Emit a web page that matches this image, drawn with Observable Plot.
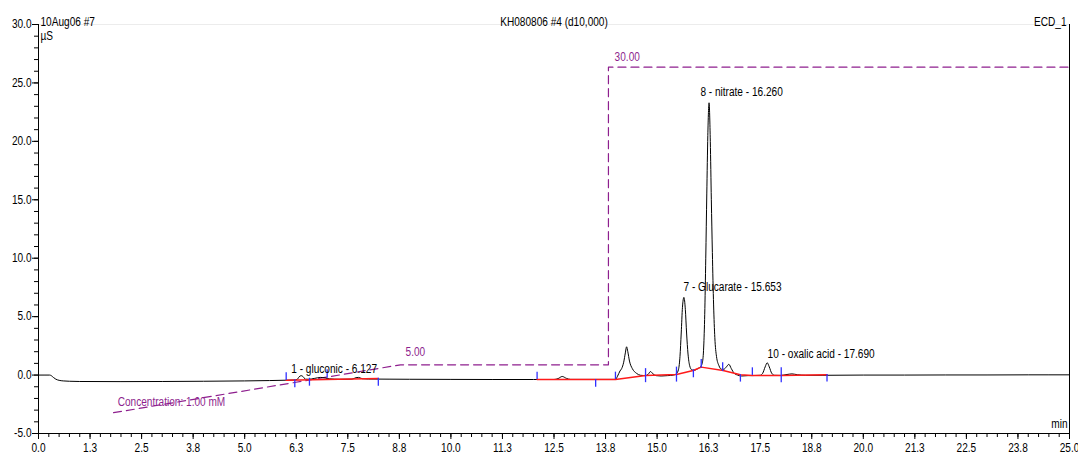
<!DOCTYPE html>
<html><head><meta charset="utf-8">
<script src="https://cdn.jsdelivr.net/npm/d3@7"></script>
<script src="https://cdn.jsdelivr.net/npm/@observablehq/plot@0.6"></script>
<style>
html,body{margin:0;padding:0;background:#fff;}
#chart svg{display:block;}
</style></head><body><div id="chart"></div>
<script>
// ---- chromatogram trace (min, µS) ----
const traceTime = [0,0.27,0.31,0.36,0.42,0.5,0.6,0.75,1.0,2.0,3.0,4.0,5.0,5.6,6.0,6.2,6.27,6.32,6.37,6.42,6.47,6.55,6.7,6.84,6.95,7.05,7.3,7.6,7.7,7.76,7.85,8.0,8.5,9.0,10.0,11.0,12.0,12.5,12.6,12.7,12.8,12.9,13.5,13.99,14.04,14.10,14.14,14.19,14.23,14.26,14.29,14.33,14.40,14.50,14.60,14.72,14.78,14.84,14.90,14.98,15.10,15.25,15.40,15.47,15.52,15.555,15.585,15.615,15.65,15.685,15.715,15.75,15.79,15.84,15.90,15.96,16.02,16.07,16.10,16.13,16.155,16.18,16.205,16.23,16.26,16.29,16.315,16.34,16.37,16.40,16.44,16.50,16.56,16.62,16.68,16.74,16.80,16.87,16.95,17.05,17.2,17.35,17.50,17.56,17.62,17.67,17.72,17.78,17.85,18.0,18.15,18.27,18.4,18.6,19.0,20.0,21.0,22.0,23.0,24.0,25.0];
const traceValue = [0,0,-0.05,-0.2,-0.35,-0.45,-0.5,-0.53,-0.55,-0.56,-0.55,-0.53,-0.5,-0.47,-0.44,-0.42,-0.38,-0.15,-0.05,-0.15,-0.35,-0.36,-0.28,-0.2,-0.25,-0.32,-0.36,-0.35,-0.22,-0.2,-0.31,-0.34,-0.35,-0.36,-0.37,-0.38,-0.38,-0.38,-0.3,-0.12,-0.28,-0.37,-0.37,-0.37,-0.1,0.35,0.55,1.1,1.9,2.42,2.0,1.2,0.55,0.15,-0.02,-0.05,0.05,0.3,0.1,-0.05,-0.08,-0.05,0.0,0.12,0.5,1.6,3.6,5.8,6.65,5.6,3.6,1.8,0.8,0.45,0.4,0.5,0.62,0.8,1.1,2.4,5.2,10,15.5,20.5,23.3,20.0,15.0,10.5,6.0,3.2,1.6,0.8,0.5,0.5,0.7,0.92,0.55,0.15,0.0,-0.08,-0.05,-0.04,-0.02,0.15,0.7,1.05,0.7,0.15,-0.02,-0.03,0.05,0.1,0.03,-0.02,-0.02,0.0,0.0,0.01,0.01,0.02,0.02];

// ---- integration baselines (red) ----
const baseATime = [6.006, 8.24];
const baseAValue = [-0.45, -0.3];
const baseBTime = [12.09, 13.99, 14.72, 15.47, 15.875, 16.07, 16.60, 17.02, 17.31, 18.01, 19.12];
const baseBValue = [-0.38, -0.38, -0.03, 0.05, 0.39, 0.68, 0.39, 0.03, -0.03, -0.03, 0.03];

// ---- peak delimiter marks (blue) ----
const markTime = [6.006, 6.215, 6.57, 7.0, 8.24, 12.09, 13.51, 13.99, 14.72, 15.47, 15.88, 16.07, 16.59, 17.02, 17.31, 18.01, 19.12];
const markLow  = [-0.46, -1.09, -0.95, -0.27, -0.95, -0.38, -1.04, -0.38, -0.65, -0.6, -0.23, 0.59, 0.3, -0.6, -0.03, -0.66, -0.6];
const markHigh = [0.2, -0.4, -0.27, 0.45, -0.27, 0.25, -0.38, 0.25, 0.55, 0.68, 0.45, 1.33, 1.05, 0.03, 0.62, 0.62, 0.05];

// ---- gradient / concentration program (drawn in µS units) ----
const gradTime = [1.82, 8.78, 13.82, 13.82, 25];
const gradValue = [-3.22, 0.88, 0.88, 26.35, 26.35];
const gradLabels = ["Concentration: 1.00 mM", "5.00", "30.00"];
const gradLabelTime = [1.92, 8.9, 13.97];
const gradLabelValue = [-2.34, 1.93, 27.2];

// ---- peak labels ----
const peakLabels = ["1 - gluconic - 6.127", "7 - Glucarate - 15.653", "8 - nitrate - 16.260", "10 - oxalic acid - 17.690"];
const peakLabelTime = [6.13, 15.64, 16.05, 17.68];
const peakLabelValue = [0.48, 7.5, 24.2, 1.76];

// ---- axes ----
const xTicks = [0,1.25,2.5,3.75,5,6.25,7.5,8.75,10,11.25,12.5,13.75,15,16.25,17.5,18.75,20,21.25,22.5,23.75,25];
const xTickLabels = ["0.0","1.3","2.5","3.8","5.0","6.3","7.5","8.8","10.0","11.3","12.5","13.8","15.0","16.3","17.5","18.8","20.0","21.3","22.5","23.8","25.0"];
const xMinorTicks = d3.range(0, 100.5, 1).map(i => i * 0.25);
const yTicks = [-5,0,5,10,15,20,25,30];
const yTickLabels = ["-5.0","0.0","5.0","10.0","15.0","20.0","25.0","30.0"];
const yMinorTicks = d3.range(-5, 30.5, 1);

const titleLeft = "10Aug06 #7";
const titleCenter = "KH080806 #4 (d10,000)";
const titleRight = "ECD_1";
const yUnit = "µS";
const xUnit = "min";

const FONT = '"Liberation Sans",Arial,sans-serif';
const NARROW = 0.84; // Arial Narrow look

const trace = traceTime.map((t, i) => ({t, v: traceValue[i]}));
const baseA = baseATime.map((t, i) => ({t, v: baseAValue[i]}));
const baseB = baseBTime.map((t, i) => ({t, v: baseBValue[i]}));
const marksB = markTime.map((t, i) => ({t, lo: markLow[i], hi: markHigh[i]}));
const grad = gradTime.map((t, i) => ({t, v: gradValue[i]}));
const gradLab = gradLabels.map((s, i) => ({s, t: gradLabelTime[i], v: gradLabelValue[i]}));
const peakLab = peakLabels.map((s, i) => ({s, t: peakLabelTime[i], v: peakLabelValue[i]}));

const purple = "#8e1f8e";

const chart = Plot.plot({
  width: 1078, height: 455,
  marginLeft: 38, marginRight: 9, marginTop: 24, marginBottom: 22,
  style: {fontFamily: FONT, fontSize: "12px", background: "#fff", color: "#000"},
  x: {domain: [0, 25]},
  y: {domain: [-5, 30]},
  marks: [
    Plot.ruleY([30], {stroke: "#ececec"}),
    Plot.axisX(xMinorTicks, {tickSize: 4, text: null, label: null, stroke: "#000"}),
    Plot.axisX(xTicks, {tickSize: 6, tickPadding: 4, tickFormat: d => xTickLabels[xTicks.indexOf(d)], label: null, fontSize: 12, fill: "#000"}),
    Plot.axisY(yMinorTicks, {tickSize: 4, text: null, label: null}),
    Plot.axisY(yTicks, {tickSize: 6, tickPadding: 1, tickFormat: d => yTickLabels[yTicks.indexOf(d)], label: null, fontSize: 12, fill: "#000"}),
    Plot.ruleX([0], {stroke: "#000"}),
    Plot.ruleX([25], {stroke: "#000"}),
    Plot.ruleY([-5], {stroke: "#000"}),
    Plot.line(grad, {x: "t", y: "v", stroke: purple, strokeWidth: 1.2, strokeDasharray: "8,5"}),
    Plot.line(trace, {x: "t", y: "v", stroke: "#000", strokeWidth: 1, curve: "monotone-x"}),
    Plot.line(baseA, {x: "t", y: "v", stroke: "#ff1a1a", strokeWidth: 1.5}),
    Plot.line(baseB, {x: "t", y: "v", stroke: "#ff1a1a", strokeWidth: 1.5}),
    Plot.ruleX(marksB, {x: "t", y1: "lo", y2: "hi", stroke: "#3030ff", strokeWidth: 1.3}),
    Plot.text(gradLab, {x: "t", y: "v", text: "s", fill: purple, textAnchor: "start", fontSize: 12}),
    Plot.text(peakLab, {x: "t", y: "v", text: "s", fill: "#000", textAnchor: "start", fontSize: 12}),
    Plot.text([titleLeft], {frameAnchor: "top-left", dx: 2, dy: -7, textAnchor: "start", fill: "#000", fontSize: 12}),
    Plot.text([titleCenter], {frameAnchor: "top", dy: -7, fill: "#000", fontSize: 12}),
    Plot.text([titleRight], {frameAnchor: "top-right", dx: -3, dy: -7, textAnchor: "end", fill: "#000", fontSize: 12}),
    Plot.text([yUnit], {frameAnchor: "top-left", dx: 2, dy: 7, textAnchor: "start", fill: "#000", fontSize: 12}),
    Plot.text([xUnit], {frameAnchor: "bottom-right", dx: -2, dy: -6, textAnchor: "end", fill: "#000", fontSize: 12})
  ]
});
document.getElementById("chart").appendChild(chart);
// condense glyphs horizontally to mimic the narrow instrument font
chart.querySelectorAll("text").forEach(el => {
  const L = el.getComputedTextLength();
  if (L > 0) {
    el.setAttribute("textLength", (L * NARROW).toFixed(2));
    el.setAttribute("lengthAdjust", "spacingAndGlyphs");
  }
});
</script>
</body></html>
